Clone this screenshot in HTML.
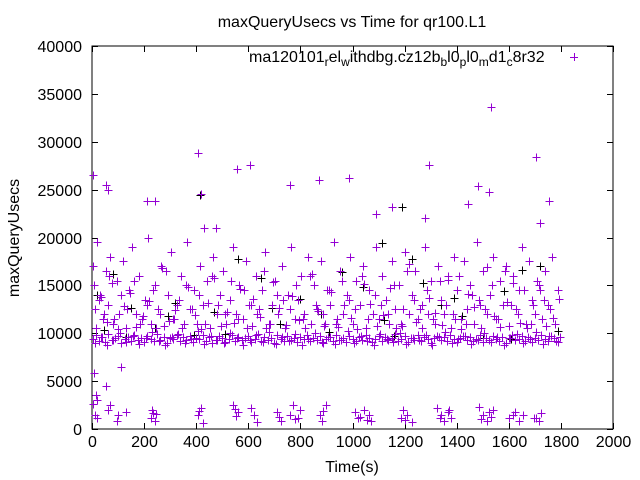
<!DOCTYPE html>
<html><head><meta charset="utf-8"><style>
body{margin:0;background:#fff;}
svg{display:block;font-family:"Liberation Sans",sans-serif;}
</style></head><body>
<svg id="c" width="640" height="480"></svg>
<script>
const xTicks=[0,200,400,600,800,1000,1200,1400,1600,1800,2000];
const yTicks=[0,5000,10000,15000,20000,25000,30000,35000,40000];
const bandT=[5,15,27,38,50,62,75,88,100,112,125,138,150,163,175,188,200,212,225,238,250,262,275,288,300,312,325,338,350,362,375,388,400,412,425,438,450,462,475,488,500,512,525,538,550,562,575,588,600,612,625,638,650,662,675,688,700,712,725,738,750,762,775,788,800,812,825,838,850,862,875,888,900,912,925,938,950,962,975,988,1000,1012,1025,1038,1050,1062,1075,1088,1100,1112,1125,1138,1150,1162,1175,1188,1200,1212,1225,1238,1250,1262,1275,1288,1300,1312,1325,1338,1350,1362,1375,1388,1400,1412,1425,1438,1450,1462,1475,1488,1500,1512,1525,1538,1550,1562,1575,1588,1600,1612,1625,1638,1650,1662,1675,1688,1700,1712,1725,1738,1750,1762,1775,1788,1795];
const bandV=[9400,9800,9200,9600,9100,9900,9300,9500,9700,9000,9400,9600,9200,9800,9300,9500,9100,9700,9400,9200,9900,9300,9600,9000,9500,9400,9800,9200,9600,9300,9700,9100,9500,9400,9800,9200,9600,9000,9300,9700,9500,9100,9400,9800,9200,9600,9300,9500,9700,9100,9400,9900,9200,9600,9300,9500,9000,9800,9400,9200,9700,9300,9500,9100,9600,9400,9800,9200,9500,9300,9700,9000,9400,9600,9200,9800,9300,9500,9100,9700,9400,9200,9600,9300,9800,9500,9100,9400,9700,9200,9600,9300,9500,9900,9200,9400,9700,9100,9500,9300,9800,9200,9600,9400,9000,9500,9700,9300,9600,9200,9800,9400,9100,9500,9700,9300,9600,9200,9400,9800,9100,9500,9300,9700,9400,9200,9600,9000,9500,9800,9300,9400,9700,9200,9600,9100,9500,9300,9800,9400,9200,9700,9500,9100,9600,9400,9300,9800,9500];
const band2T=[10,33,56,80,106,131,156,181,206,231,256,281,306,331,356,381,406,431,456,481,506,531,556,581,606,631,656,681,706,731,756,781,806,831,856,881,906,931,956,981,1006,1031,1056,1081,1106,1131,1156,1181,1206,1231,1256,1281,1306,1331,1356,1381,1406,1431,1456,1481,1506,1531,1556,1581,1606,1631,1656,1681,1706,1731,1756,1781];
const band2V=[9000,9600,8800,9300,10000,9100,9700,8900,9500,10100,9200,8800,9600,9900,9000,9400,10200,8900,9700,9300,9000,10000,9500,8800,9300,9800,9100,10100,8900,9600,9200,9900,8800,9400,10000,9100,9600,8900,9300,10200,9000,9700,9200,8800,9900,9400,9100,10000,8900,9500,9300,9800,8800,9600,10100,9000,9400,9700,8900,9300,10000,9100,9600,8800,9500,9900,9000,9400,10100,8900,9700,9200];
const midT=[3,10,20,30,42,55,60,70,82,95,105,118,130,142,155,168,180,192,205,215,228,240,252,265,278,290,302,315,328,340,352,365,378,390,402,415,428,440,452,465,478,490,502,515,528,540,552,565,578,590,602,615,628,640,652,665,678,690,702,715,728,740,752,765,778,790,802,815,828,840,852,865,878,890,902,915,928,940,952,965,978,990,1002,1015,1028,1040,1052,1065,1078,1090,1102,1115,1128,1140,1152,1165,1178,1190,1202,1215,1228,1240,1252,1265,1278,1290,1302,1315,1328,1340,1352,1365,1378,1390,1402,1415,1428,1440,1452,1465,1478,1490,1502,1515,1528,1540,1552,1565,1578,1590,1602,1615,1628,1640,1652,1665,1678,1690,1702,1715,1728,1740,1752,1765,1778,1790,8,25,45,65,85,110,135,160,185,210,235,260,285,310,335,360,385,410,435,460,485,510,535,560,585,610,635,660,685,710,735,760,785,810,835,860,885,910,935,960,985,1010,1035,1060,1085,1110,1135,1160,1185,1210,1235,1260,1285,1310,1335,1360,1385,1410,1435,1460,1485,1510,1535,1560,1585,1610,1635,1660,1685,1710,1735,1760,1785];
const midV=[17000,12500,19500,14000,11500,16500,13000,18000,11000,15500,12000,17500,10500,14500,19000,12000,16000,11500,13500,20000,11000,15000,12500,17000,10800,14000,18500,11500,13000,16000,11000,19500,12500,14500,11000,17000,13000,15500,10500,18000,12000,14000,16500,11000,13500,19000,12000,15000,11500,17500,13000,10800,16000,12500,14500,18500,11000,13000,15500,12000,17000,10500,14000,19000,11500,13500,16000,12000,18000,11000,15000,12500,17500,10800,14500,13000,19500,11500,16500,12000,14000,18000,11000,15500,13000,17000,10500,14500,12000,19000,11500,16000,13500,11000,17500,12500,15000,10800,18500,12000,14000,16500,11500,13000,19000,12000,15500,11000,17000,13500,12000,16000,10500,18000,14500,11500,17500,12500,15000,11000,19500,13000,16500,12000,14000,18000,11500,15500,13000,17000,10800,16000,12500,14500,19000,11000,17500,13500,12000,15000,11500,16500,13000,18000,11000,14500,15000,13500,12000,16000,11500,14000,12500,15500,11000,13000,14500,12000,16500,11500,13500,15000,12500,14000,11000,16000,13000,12000,15500,11500,14500,13000,12000,16500,11000,14000,13500,12500,15000,11500,16000,13000,12000,14500,11000,15500,13500,12500,16000,11500,14000,13000,12000,15000,11000,16500,13500,12500,14500,11500,15500,13000,12000,16000,11000,14000,13500,12500,15000,11500,16500,13000,12000,14500,11000,15500,13500,12500];
const mid2T=[14,36,58,77,98,122,146,170,196,219,244,268,294,318,344,368,394,418,444,468,494,518,544,568,594,618,644,668,694,718,744,768,794,818,844,868,894,918,944,968,994,1018,1044,1068,1094,1118,1144,1168,1194,1218,1244,1268,1294,1318,1344,1368,1394,1418,1444,1468,1494,1518,1544,1568,1594,1618,1644,1668,1694,1718,1744,1768,1794];
const mid2V=[10600,13800,11200,15200,10400,12800,14200,10700,11800,13400,10500,16800,11300,12400,10600,14800,11900,10400,13200,15800,10800,12200,11100,14600,10500,13600,11700,10600,15400,12600,10900,13900,11400,10500,16200,12300,11000,14300,10700,12900,11600,10400,15100,13100,10800,11900,14700,10500,12500,17200,11200,10600,13700,12100,10900,15600,11500,10400,14100,12700,10600,16900,11800,10700,13300,15300,11100,10500,12900,14500,10800,11600,13600];
const lowT=[5,10,15,20,60,70,95,100,130,225,232,240,245,405,418,425,540,552,560,610,622,632,710,725,760,770,790,800,875,882,900,1010,1030,1045,1065,1070,1185,1195,1210,1230,1325,1340,1350,1365,1380,1485,1500,1515,1525,1540,1600,1625,1640,1655,1695,1715,1725,8,52,110,18,235,412,548,718,778,888,1020,1055,1200,1335,1372,1495,1532,1618,1705];
const lowV=[2600,1500,3500,1200,2000,2500,800,1500,1800,1200,2000,800,1600,1500,2200,600,2500,1400,1800,2200,1500,700,1800,800,1500,2500,1200,2000,1500,800,2500,1800,1300,2000,1500,800,1200,2000,1500,700,2200,1500,800,1800,1200,2300,1500,800,1800,2000,1200,1800,800,1500,1200,800,1700,5800,4500,6500,3000,1700,1900,2100,1300,1000,1900,1100,900,900,1200,2000,1000,1300,1500,1100];
const outT=[5,55,60,210,240,405,420,555,605,760,870,985,1150,1295,1480,1525,1530,1705,1755,475,1280,1720,430,1445,1090];
const outV=[26500,25500,25000,23800,23800,28800,24500,27200,27600,25500,26000,26200,23200,27600,25400,24800,33600,28400,23800,21000,22000,21500,21000,23500,22500];
const blackT=[20,80,150,240,320,390,470,560,650,720,800,880,960,1040,1120,1190,1270,1340,1420,1500,1580,1650,1720,1790,415,1115,1230,45,130,290,510,690,910,1160,1390,1610];
const blackV=[14000,16200,12600,10500,13200,9800,12200,17800,15800,11000,13600,12000,16400,14800,11400,23200,15200,13000,11800,9500,14400,16600,17000,10200,24400,19400,17800,10300,9600,11800,9900,12600,10100,9700,13700,9400];

const svg=document.getElementById('c');
const NS='http://www.w3.org/2000/svg';
const X0=92,X1=613,Y0=429,Y1=46;
const sx=t=>X0+(t-0)*(X1-X0)/2000;
const sy=v=>Y0-(v-0)*(Y0-Y1)/40000;
function mk(tag,attrs,txt){const e=document.createElementNS(NS,tag);for(const k in attrs)e.setAttribute(k,attrs[k]);if(txt!==undefined)e.textContent=txt;svg.appendChild(e);return e;}
let e;
e=mk('rect',{x:X0,y:Y1,width:X1-X0,height:Y0-Y1,fill:'none',stroke:'#000','stroke-width':1});


xTicks.forEach(t=>{
  const x=Math.round(sx(t))+0.5;
  e=mk('path',{d:`M${x} ${Y0}v-6M${x} ${Y1}v6`,stroke:'#000'});
  
  
  e=mk('text',{x:x,y:447,'text-anchor':'middle','font-size':16},String(t));
  
  
});
yTicks.forEach(v=>{
  const y=Math.round(sy(v))+0.5;
  e=mk('path',{d:`M${X0} ${y}h6M${X1} ${y}h-6`,stroke:'#000'});
  
  
  e=mk('text',{x:82,y:y+5.5,'text-anchor':'end','font-size':16},String(v));
  
  
});
e=mk('text',{x:352,y:27,'text-anchor':'middle','font-size':16},'maxQueryUsecs vs Time for qr100.L1');


e=mk('text',{x:352,y:472,'text-anchor':'middle','font-size':16},'Time(s)');


e=mk('text',{x:19,y:238,'text-anchor':'middle','font-size':16,transform:'rotate(-90 19 238)'},'maxQueryUsecs');


e=mk('text',{x:249,y:62,'font-size':16});
e.innerHTML='ma120101<tspan dy="4" font-size="12">r</tspan><tspan dy="-4">el</tspan><tspan dy="4" font-size="12">w</tspan><tspan dy="-4">ithdbg.cz12b</tspan><tspan dy="4" font-size="12">b</tspan><tspan dy="-4">l0</tspan><tspan dy="4" font-size="12">p</tspan><tspan dy="-4">l0</tspan><tspan dy="4" font-size="12">m</tspan><tspan dy="-4">d1</tspan><tspan dy="4" font-size="12">c</tspan><tspan dy="-4">8r32</tspan>';


e=mk('path',{d:'M570 57.5h8M574.5 53v8',stroke:'#9400d3','stroke-width':1,'shape-rendering':'crispEdges'});


function plus(t,v,col,name){
  const x=Math.round(sx(t))+0.5,y=Math.round(sy(v))+0.5;
  const p=mk('path',{d:`M${x-4} ${y}h8M${x} ${y-4}v8`,stroke:col,'stroke-width':1,'shape-rendering':'crispEdges'});
  
  
}
blackT.forEach((t,i)=>plus(t,blackV[i],'#000','point-black'));
bandT.forEach((t,i)=>plus(t,bandV[i],'#9400d3','point-band'));
band2T.forEach((t,i)=>plus(t,band2V[i],'#9400d3','point-band'));
midT.forEach((t,i)=>plus(t,midV[i],'#9400d3','point-mid'));
mid2T.forEach((t,i)=>plus(t,mid2V[i],'#9400d3','point-mid'));
lowT.forEach((t,i)=>plus(t,lowV[i],'#9400d3','point-low'));
outT.forEach((t,i)=>plus(t,outV[i],'#9400d3','point-outlier'));
</script>
</body></html>
